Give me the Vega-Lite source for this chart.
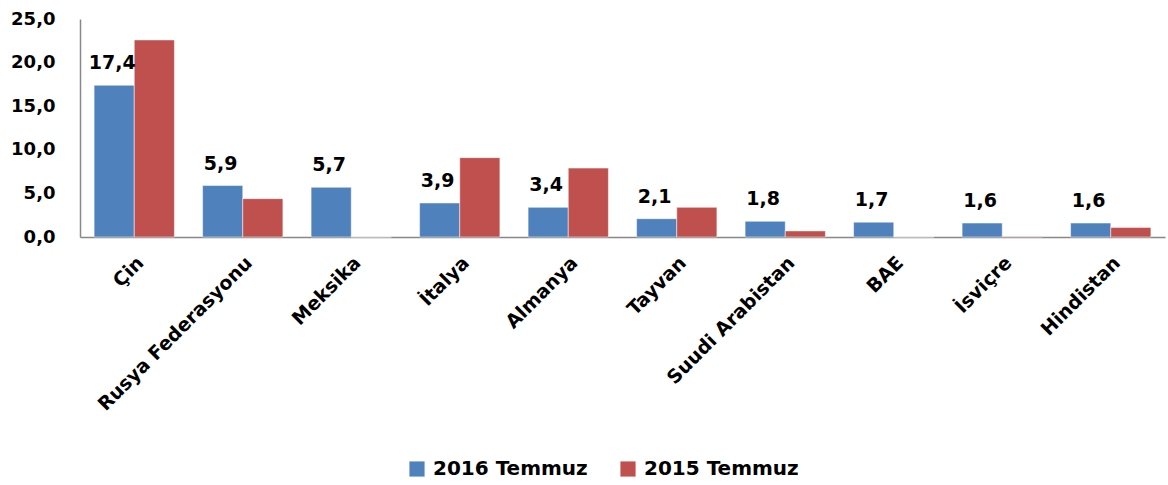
{
  "$schema": "https://vega.github.io/schema/vega-lite/v6.json",
  "autosize": {"type": "none"},
  "width": 1085,
  "height": 218,
  "padding": {"left": 80, "top": 19, "right": 3, "bottom": 248},
  "config": {
    "locale": {"number": {"decimal": ",", "thousands": ".", "grouping": [3], "currency": ["", " TL"]}},
    "view": {"stroke": null},
    "font": "DejaVu Sans"
  },
  "data": {
    "values": [
      {"ulke": "Çin", "seri": "2016 Temmuz", "deger": 17.4},
      {"ulke": "Çin", "seri": "2015 Temmuz", "deger": 22.6},
      {"ulke": "Rusya Federasyonu", "seri": "2016 Temmuz", "deger": 5.9},
      {"ulke": "Rusya Federasyonu", "seri": "2015 Temmuz", "deger": 4.4},
      {"ulke": "Meksika", "seri": "2016 Temmuz", "deger": 5.7},
      {"ulke": "Meksika", "seri": "2015 Temmuz", "deger": 0},
      {"ulke": "İtalya", "seri": "2016 Temmuz", "deger": 3.9},
      {"ulke": "İtalya", "seri": "2015 Temmuz", "deger": 9.1},
      {"ulke": "Almanya", "seri": "2016 Temmuz", "deger": 3.4},
      {"ulke": "Almanya", "seri": "2015 Temmuz", "deger": 7.9},
      {"ulke": "Tayvan", "seri": "2016 Temmuz", "deger": 2.1},
      {"ulke": "Tayvan", "seri": "2015 Temmuz", "deger": 3.4},
      {"ulke": "Suudi Arabistan", "seri": "2016 Temmuz", "deger": 1.8},
      {"ulke": "Suudi Arabistan", "seri": "2015 Temmuz", "deger": 0.7},
      {"ulke": "BAE", "seri": "2016 Temmuz", "deger": 1.7},
      {"ulke": "BAE", "seri": "2015 Temmuz", "deger": 0},
      {"ulke": "İsviçre", "seri": "2016 Temmuz", "deger": 1.6},
      {"ulke": "İsviçre", "seri": "2015 Temmuz", "deger": 0.05},
      {"ulke": "Hindistan", "seri": "2016 Temmuz", "deger": 1.6},
      {"ulke": "Hindistan", "seri": "2015 Temmuz", "deger": 1.1}
    ]
  },
  "encoding": {
    "x": {
      "field": "ulke", "type": "nominal", "sort": null, "title": null,
      "scale": {"paddingInner": 0.26, "paddingOuter": 0.13},
      "axis": {
        "labelAngle": -45, "labelFont": "DejaVu Sans", "labelFontSize": 19, "labelFontWeight": "bold",
        "labelColor": "#000000", "ticks": false, "domainColor": "#888888", "domainWidth": 1.5,
        "labelPadding": 16, "labelLimit": 0
      }
    },
    "xOffset": {"field": "seri", "type": "nominal", "sort": ["2016 Temmuz", "2015 Temmuz"], "scale": {"domain": ["2016 Temmuz", "2015 Temmuz"]}},
    "y": {
      "field": "deger", "type": "quantitative", "title": null,
      "scale": {"domain": [0, 25], "nice": false},
      "axis": {
        "values": [0, 5, 10, 15, 20, 25], "format": ".1f", "grid": false, "ticks": false,
        "labelFont": "DejaVu Sans", "labelFontSize": 18, "labelFontWeight": "bold", "labelColor": "#000000",
        "domainColor": "#888888", "domainWidth": 1.5, "labelPadding": 25
      }
    }
  },
  "layer": [
    {
      "mark": {"type": "bar", "stroke": "#ffffff", "strokeWidth": 0.5},
      "encoding": {
        "color": {
          "field": "seri", "type": "nominal",
          "scale": {"domain": ["2016 Temmuz", "2015 Temmuz"], "range": ["#4F81BD", "#C0504D"]},
          "legend": {
            "title": null, "orient": "none", "direction": "horizontal", "legendX": 327, "legendY": 440,
            "symbolType": "square", "symbolSize": 230, "symbolStrokeWidth": 0,
            "labelFont": "DejaVu Sans", "labelFontSize": 20, "labelFontWeight": "bold", "labelColor": "#000000",
            "columnPadding": 30, "labelOffset": 6, "labelLimit": 0
          }
        }
      }
    },
    {
      "transform": [{"filter": "datum.seri === '2016 Temmuz'"}],
      "mark": {"type": "text", "baseline": "alphabetic", "dy": -16, "dx": -2, "font": "DejaVu Sans", "fontSize": 19, "fontWeight": "bold", "color": "#000000"},
      "encoding": {
        "text": {"field": "deger", "type": "quantitative", "format": ".1f"}
      }
    }
  ]
}
